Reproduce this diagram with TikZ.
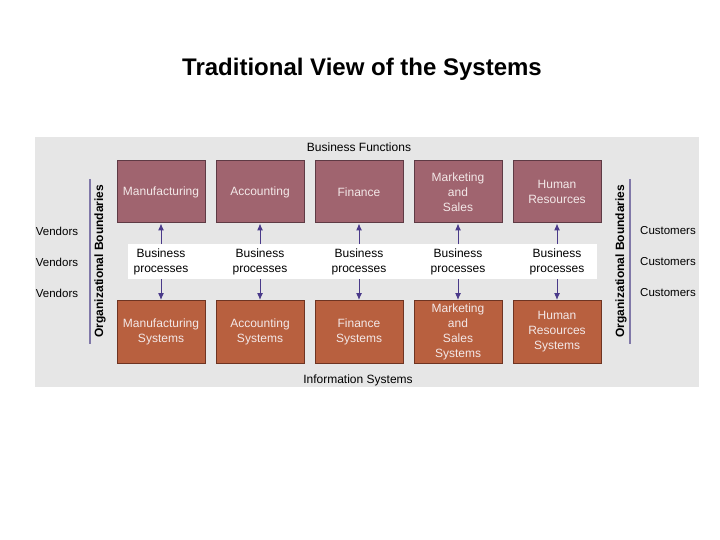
\documentclass[tikz,border=0pt]{standalone}
\usepackage{fontspec}
\setmainfont{Liberation Sans}
\usetikzlibrary{arrows.meta}
\definecolor{bgray}{HTML}{E6E6E6}
\definecolor{funcfill}{HTML}{A0646F}
\definecolor{funcdraw}{HTML}{5E3A44}
\definecolor{sysfill}{HTML}{B8603F}
\definecolor{sysdraw}{HTML}{6E3422}
\definecolor{boxtext}{HTML}{F3E8E8}
\definecolor{arrowc}{HTML}{4A3A8A}
\definecolor{linec}{HTML}{8078A8}
\tikzset{
  funcbox/.style={draw=funcdraw, line width=1pt, fill=funcfill, minimum width=88pt, minimum height=62pt, inner sep=0pt, text=boxtext, font=\fontsize{12}{15}\selectfont, align=center},
  sysbox/.style={draw=sysdraw, line width=1pt, fill=sysfill, minimum width=88pt, minimum height=63pt, inner sep=0pt, text=boxtext, font=\fontsize{12}{15}\selectfont, align=center},
  proclabel/.style={inner sep=0pt, font=\fontsize{12}{15}\selectfont, align=center},
  sidelabel/.style={inner sep=0pt, font=\fontsize{11.5}{14}\selectfont},
  boundlabel/.style={inner sep=0pt, font=\fontsize{12}{14}\selectfont\bfseries, rotate=90},
  flow/.style={draw=arrowc, line width=1pt, -{Latex[length=7pt,width=6pt]}}
}
\begin{document}
\begin{tikzpicture}[x=1pt,y=-1pt]
\useasboundingbox (0,0) rectangle (720,540);
\fill[white] (0,0) rectangle (720,540);
\node[font=\fontsize{24}{28}\selectfont\bfseries, inner sep=0pt] (title) at (362,69) {Traditional View of the Systems};
\fill[bgray] (35,137) rectangle (699,387);
\fill[white] (128,244) rectangle (597,279);
\node[inner sep=0pt, font=\fontsize{12}{14}\selectfont] (bf) at (359,147) {Business Functions};
\node[inner sep=0pt, font=\fontsize{12}{14}\selectfont] (is) at (358,380) {Information Systems};
% top boxes
\node[funcbox] (f1) at (161,192) {Manufacturing};
\node[funcbox] (f2) at (260,192) {Accounting};
\node[funcbox] (f3) at (359,192) {Finance};
\node[funcbox] (f4) at (458,192) {Marketing\\and\\Sales};
\node[funcbox] (f5) at (557,192) {Human\\Resources};
% bottom boxes
\node[sysbox] (s1) at (161,332) {Manufacturing\\Systems};
\node[sysbox] (s2) at (260,332) {Accounting\\Systems};
\node[sysbox] (s3) at (359,332) {Finance\\Systems};
\node[sysbox] (s4) at (458,332) {Marketing\\and\\Sales\\Systems};
\node[sysbox] (s5) at (557,332) {Human\\Resources\\Systems};
% process labels
\foreach \i/\x in {1/161,2/260,3/359,4/458,5/557}{
  \node[proclabel] (p\i) at (\x,261.5) {Business\\processes};
  \coordinate (pt\i) at (\x,244);
  \coordinate (pb\i) at (\x,279);
  \draw[flow] (pt\i) -- (f\i.south);
  \draw[flow] (pb\i) -- (s\i.north);
}
% boundaries
\coordinate (lt) at (90,179); \coordinate (lb) at (90,344);
\coordinate (rt) at (630,179); \coordinate (rb) at (630,344);
\draw[linec, line width=1.5pt] (lt) -- (lb);
\draw[linec, line width=1.5pt] (rt) -- (rb);
\node[boundlabel] (bl) at (100,261) {Organizational Boundaries};
\node[boundlabel] (br) at (621,261) {Organizational Boundaries};
% vendors / customers
\node[sidelabel] (v1) at (57,231) {Vendors};
\node[sidelabel] (v2) at (57,262) {Vendors};
\node[sidelabel] (v3) at (57,293) {Vendors};
\node[sidelabel] (c1) at (668,231) {Customers};
\node[sidelabel] (c2) at (668,262) {Customers};
\node[sidelabel] (c3) at (668,293) {Customers};
\end{tikzpicture}
\end{document}
